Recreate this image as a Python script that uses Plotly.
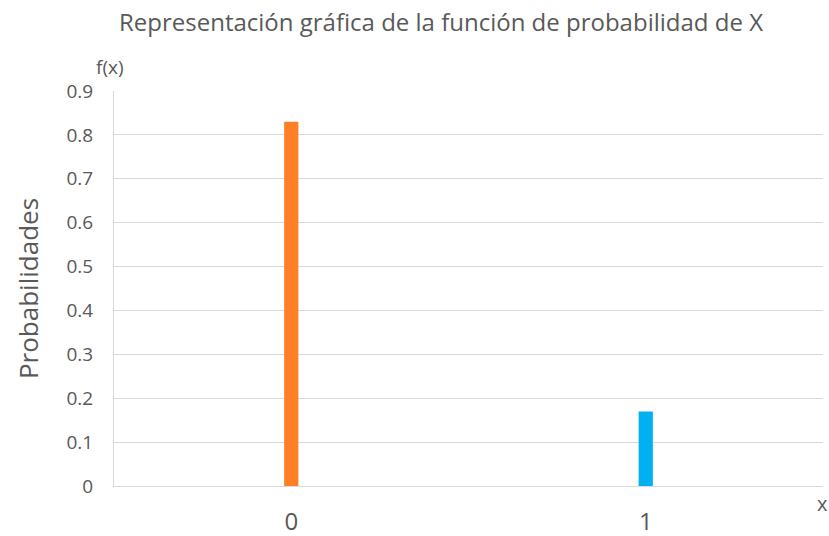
import plotly.graph_objects as go

# Probability function of X
x_values = [0, 1]
probabilities = [0.83, 0.17]
bar_colors = ["#FF7F27", "#00B0F0"]
y_ticks = [0, 0.1, 0.2, 0.3, 0.4, 0.5, 0.6, 0.7, 0.8, 0.9]
y_tick_labels = ["0", "0.1", "0.2", "0.3", "0.4", "0.5", "0.6", "0.7", "0.8", "0.9"]

TEXT = "#595959"
GRID = "#D9D9D9"
FONT = "Open Sans"

fig = go.Figure(
    go.Bar(
        x=x_values,
        y=probabilities,
        width=0.04,
        marker=dict(color=bar_colors, line=dict(width=0)),
        showlegend=False,
    )
)

fig.update_layout(
    width=829,
    height=536,
    margin=dict(l=114, r=6, t=91, b=50, autoexpand=False),
    paper_bgcolor="white",
    plot_bgcolor="white",
    font=dict(family=FONT, color=TEXT),
    title=dict(
        text="Representación gráfica de la función de probabilidad de X",
        x=0.532,
        xanchor="center",
        y=0.958,
        yanchor="middle",
        font=dict(size=24, color=TEXT, family=FONT),
    ),
    xaxis=dict(
        range=[-0.5, 1.5],
        tickvals=x_values,
        ticktext=[str(v) for v in x_values],
        tickfont=dict(size=24, color=TEXT),
        ticklabelstandoff=14,
        automargin=False,
        showgrid=False,
        zeroline=False,
        showline=True,
        linecolor=GRID,
        linewidth=1,
        ticks="",
        fixedrange=True,
    ),
    yaxis=dict(
        range=[0, 0.9],
        tickvals=y_ticks,
        ticktext=y_tick_labels,
        tickfont=dict(size=19, color=TEXT),
        ticklabelstandoff=16,
        automargin=False,
        showgrid=True,
        gridcolor=GRID,
        gridwidth=1,
        zeroline=False,
        showline=True,
        linecolor=GRID,
        linewidth=1,
        ticks="",
        title=dict(text="Probabilidades", font=dict(size=26, color=TEXT), standoff=20),
        fixedrange=True,
    ),
    annotations=[
        dict(
            text="f(x)", xref="paper", yref="paper", x=0, y=1,
            xanchor="center", yanchor="bottom", yshift=9, xshift=-4,
            showarrow=False, font=dict(size=19, color=TEXT),
        ),
        dict(
            text="x", xref="paper", yref="paper", x=1, y=0,
            xanchor="center", yanchor="top", yshift=-2, xshift=-1,
            showarrow=False, font=dict(size=20, color=TEXT),
        ),
    ],
)

fig.write_html("out.html")
